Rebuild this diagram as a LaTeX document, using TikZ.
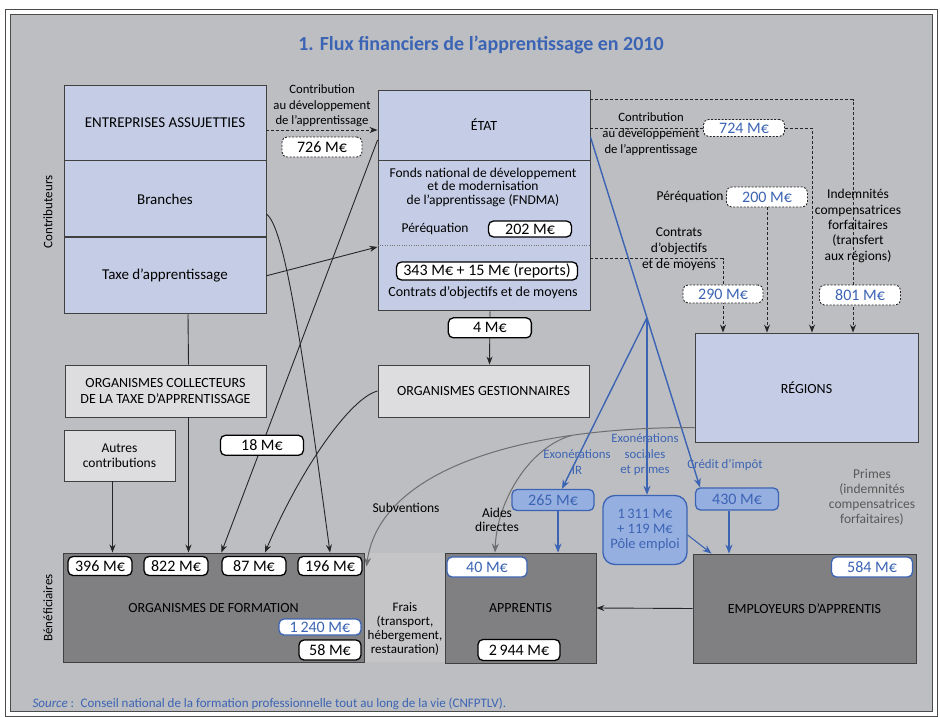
\documentclass[tikz,border=0pt]{standalone}
\usepackage{fontspec}
\setmainfont{Carlito}
\usepackage{xcolor}
\usepackage{tikz}
\usetikzlibrary{arrows.meta,positioning,calc}

\definecolor{fondgris}{RGB}{189,190,193}
\definecolor{bleuclair}{RGB}{197,205,230}
\definecolor{grisclair}{RGB}{221,221,223}
\definecolor{grisfonce}{RGB}{128,128,131}
\definecolor{grisfrais}{RGB}{197,197,199}
\definecolor{bleutexte}{RGB}{60,100,180}
\definecolor{bleufond}{RGB}{150,175,225}
\definecolor{traitgris}{RGB}{110,110,113}

\begin{document}
\begin{tikzpicture}[
    x=1pt, y=-1pt,
    font=\fontsize{14}{16}\selectfont,
    cadre/.style={draw=black!75, line width=0.9pt, align=center, inner sep=0pt},
    contrib/.style={cadre, fill=bleuclair, minimum width=202pt, minimum height=76pt, font=\fontsize{15}{17}\selectfont},
    organisme/.style={cadre, fill=grisclair, minimum height=52pt},
    benef/.style={cadre, fill=grisfonce, minimum height=109pt},
    montant/.style={draw=black, line width=1.3pt, fill=white, rounded corners=5pt, minimum height=19pt, inner sep=0pt, font=\fontsize{16}{17}\selectfont},
    montantpt/.style={montant, draw=black!85, line width=0.9pt, dash pattern=on 2pt off 1.5pt, text=bleutexte},
    montantbleu/.style={montant, draw=bleutexte, text=bleutexte},
    aide/.style={montant, draw=bleutexte, fill=bleufond, text=bleutexte},
    legende/.style={align=center, inner sep=0pt, font=\fontsize{13.5}{15.5}\selectfont},
    legendebleue/.style={legende, text=bleutexte, font=\fontsize{12.8}{15.5}\selectfont},
    fleche/.style={draw=black!85, line width=0.9pt, -{Stealth[length=8pt,width=6pt]}},
    flechept/.style={fleche, dash pattern=on 3pt off 2pt},
    flechebleue/.style={draw=bleutexte, line width=1.4pt, -{Stealth[length=9pt,width=7pt]}},
    flechegrise/.style={draw=traitgris, line width=1pt, -{Stealth[length=9pt,width=7pt]}}
  ]
  \useasboundingbox (0,0) rectangle (940,717);
  % cadre
  \draw[black!70, line width=1pt, fill=white] (5,10) rectangle (937,716);
  \draw[black!70, line width=0.8pt, fill=fondgris] (10,14.5) rectangle (932.5,711.5);
  \node[text=bleutexte, font=\fontsize{20}{23}\selectfont\bfseries] (titre) at (481,45) {1. Flux financiers de l'apprentissage en 2010};
  \node[rotate=90, font=\fontsize{13}{15}\selectfont] (contributeurs) at (48,212) {Contributeurs};
  \node[rotate=90, font=\fontsize{13}{15}\selectfont] (beneficiaires) at (48,608) {Bénéficiaires};

  % contributeurs
  \node[contrib, minimum height=75pt] (ent) at (165,122.5) {ENTREPRISES ASSUJETTIES};
  \node[contrib, below=0pt of ent] (bra) {Branches};
  \node[contrib, below=0pt of bra] (taxe) {Taxe d'apprentissage};
  \node[organisme, minimum width=201pt] (coll) at (165.5,391) {ORGANISMES COLLECTEURS\\DE LA TAXE D'APPRENTISSAGE};
  \node[organisme, minimum width=111pt, minimum height=51pt, font=\fontsize{13.5}{15}\selectfont] (autres) at (119.5,455.5) {Autres\\contributions};

  % Etat
  \node[cadre, fill=bleuclair, minimum width=212pt, minimum height=70pt] (etat) at (484,125) {ÉTAT};
  \node[cadre, fill=bleuclair, minimum width=212pt, minimum height=150pt, below=0pt of etat] (fonds) {};
  \draw[black!55, dotted] ([yshift=-9pt]fonds.west) -- ([yshift=-9pt]fonds.east);
  \node[legende, font=\fontsize{13.5}{13.5}\selectfont] (fndma) at (483,187) {Fonds national de développement\\et de modernisation\\de l'apprentissage (FNDMA)};
  \node[font=\fontsize{13.5}{15}\selectfont] (pereq) at (435,229) {Péréquation};
  \node[montant, minimum width=83pt, minimum height=16pt] (a202) at (530,229) {202 M€};
  \node[montant, minimum width=181pt, minimum height=18pt] (a343) at (487,271) {343 M€ + 15 M€ (reports)};
  \node (cpom) at (483,293) {Contrats d'objectifs et de moyens};
  \node[organisme, fill=grisclair, minimum width=211pt] (gestion) at (483.5,391) {ORGANISMES GESTIONNAIRES};
  \node[cadre, fill=bleuclair, minimum width=223pt, minimum height=109pt] (regions) at (806.5,387.5) {RÉGIONS};

  % beneficiaires
  \node[fill=grisfrais, minimum width=81pt, minimum height=109pt, inner sep=0pt] (zonefrais) at (404.5,607.5) {};
  \node[benef, minimum width=301pt] (formation) at (213.5,607.5) {ORGANISMES DE FORMATION};
  \node[benef, minimum width=151pt, minimum height=110pt] (apprentis) at (520.5,608) {APPRENTIS};
  \node[benef, minimum width=223pt] (employeurs) at (804.5,608.5) {EMPLOYEURS D'APPRENTIS};
  \node[legende, font=\fontsize{13}{14}\selectfont] (frais) at (405,629) {Frais\\(transport,\\hébergement,\\restauration)};

  \node[montant, minimum width=64pt] (a396) at (100,566) {396 M€};
  \node[montant, minimum width=64pt] (a822) at (176,566) {822 M€};
  \node[montant, minimum width=64pt] (a87) at (254,566) {87 M€};
  \node[montant, minimum width=64pt] (a196) at (330,566) {196 M€};
  \node[montantbleu, minimum width=82pt, minimum height=16pt] (a1240) at (320,627) {1\,240 M€};
  \node[montant, minimum width=62pt, minimum height=20pt] (a58) at (330,650) {58 M€};
  \node[montantbleu, minimum width=80pt, minimum height=20pt] (a40) at (487,567) {40 M€};
  \node[montant, minimum width=82pt, minimum height=21pt] (a2944) at (519,650) {2\,944 M€};
  \node[montantbleu, minimum width=81pt, minimum height=20pt] (a584) at (872,567) {584 M€};

  \node[aide, minimum width=82pt, minimum height=21pt] (b265) at (553,500) {265 M€};
  \node[aide, minimum width=84pt, minimum height=69pt, rounded corners=12pt, align=center, font=\fontsize{14.5}{15}\selectfont] (b1311) at (645,530) {1\,311 M€\\+ 119 M€\\Pôle emploi};
  \node[aide, minimum width=83pt, minimum height=22pt] (b430) at (737,499) {430 M€};

  % flux vers l'Etat
  \draw[flechept] ([yshift=-7.5pt]ent.east) -- ([yshift=-7.5pt]ent.east -| etat.west);
  \draw[fleche] (taxe.east) -- ([yshift=-11pt]fonds.west);
  \draw[draw=black!85, line width=0.9pt] ([xshift=23pt]taxe.south) -- ([xshift=23pt]coll.north);

  % flux vers les organismes de formation
  \draw[fleche] ([xshift=23pt]coll.south) -- ([xshift=23pt]coll.south |- formation.north);
  \draw[fleche] ([xshift=-7pt]autres.south) -- ([xshift=-7pt]autres.south |- formation.north);
  \draw[fleche] ([yshift=-15pt]etat.west) -- node[montant, pos=0.74, minimum width=83pt, minimum height=20pt] (a18) {18 M€} (a87.west |- formation.north);
  \draw[fleche] ([yshift=-15pt]bra.east) .. controls (284,228) and (300,330) .. (a196.north |- formation.north);
  \draw[fleche] (gestion.west) .. controls (350,398) and (300,470) .. ([xshift=11pt]a87.north |- formation.north);
  \draw[fleche] ([xshift=6pt]fonds.south) -- node[montant, pos=0.31, minimum width=83pt, minimum height=20pt] (a4) {4 M€} ([xshift=6pt]gestion.north);

  % flux vers les regions
  \draw[flechept] ([yshift=-10pt]etat.north east) -| ([xshift=46.5pt]regions.north);
  \draw[flechept] ([yshift=-3pt]etat.east) -| ([xshift=5.5pt]regions.north);
  \node[montantpt, minimum width=81pt, minimum height=20pt] (a200) at (767,197) {200 M€};
  \draw[flechept] (a200.south) -- (a200.south |- regions.north);
  \draw[flechept] ([yshift=-23pt]fonds.east) -| ([xshift=-83.5pt]regions.north);
  \node[montantpt, minimum width=81pt, minimum height=17pt] (a724) at (744,128) {724 M€};
  \node[montantpt, minimum width=80pt, minimum height=18pt] (a290) at (723,294) {290 M€};
  \node[montantpt, minimum width=81pt, minimum height=20pt] (a801) at (860,295) {801 M€};
  \node[montantpt, text=black, minimum width=80pt, minimum height=20pt] (a726) at (322,147) {726 M€};

  % aides de l'Etat
  \draw[flechebleue] ([yshift=-12pt]etat.east) -- ([xshift=-37pt]b430.north) coordinate[pos=0.516] (hub);
  \draw[flechebleue] (hub) -- ([xshift=9pt]b265.north);
  \draw[flechebleue] (hub) -- (hub |- b1311.north);
  \draw[flechebleue, line width=1.1pt] ([xshift=5pt]b265.south) -- ([xshift=5pt]b265.south |- apprentis.north);
  \draw[flechebleue, line width=1.1pt] ([yshift=-5pt]b1311.east) -- ([xshift=19pt]employeurs.north west);
  \draw[flechebleue, line width=1.1pt] ([xshift=-8pt]b430.south) -- ([xshift=-8pt]b430.south |- employeurs.north);

  % aides des regions
  \draw[flechegrise] ([yshift=-40pt]regions.west) .. controls (520,427) and (380,470) .. ([xshift=2pt,yshift=41pt]formation.east) coordinate[pos=0.25] (split);
  \draw[flechegrise] (split) .. controls (530,447) and (497,500) .. ([xshift=-25.5pt]apprentis.north);
  \draw[fleche] (employeurs.west) -- (apprentis.east);

  % legendes
  \node[legende, font=\fontsize{12.7}{15.5}\selectfont] (contribtxt) at (322,106) {Contribution\\au développement\\de l'apprentissage};
  \node[legende, font=\fontsize{12.7}{16}\selectfont] (contribreg) at (651,134) {Contribution\\au développement\\de l'apprentissage};
  \node[legende] (pereqreg) at (690,197) {Péréquation};
  \node[legende, font=\fontsize{13.5}{16}\selectfont] (cpomreg) at (679,249) {Contrats\\d'objectifs\\et de moyens};
  \node[legende, font=\fontsize{13.5}{15.3}\selectfont] (indemn) at (858,226) {Indemnités\\compensatrices\\forfaitaires\\(transfert\\aux régions)};
  \node[legendebleue] (exoir) at (577,462) {Exonérations\\IR};
  \node[legendebleue] (exosoc) at (645,455) {Exonérations\\sociales\\et primes};
  \node[legendebleue] (credit) at (725,465) {Crédit d'impôt};
  \node[legende] (subv) at (406,508) {Subventions};
  \node[legende, font=\fontsize{13.5}{14}\selectfont] (aides) at (497,520) {Aides\\directes};
  \node[legende, text=black!65, font=\fontsize{13.5}{15}\selectfont] (primes) at (872,497) {Primes\\(indemnités\\compensatrices\\forfaitaires)};
  \node[anchor=west, text=bleutexte, font=\fontsize{13}{15}\selectfont] (source) at (29,704) {\textit{Source}~:\enspace Conseil national de la formation professionnelle tout au long de la vie (CNFPTLV).};
\end{tikzpicture}
\end{document}
